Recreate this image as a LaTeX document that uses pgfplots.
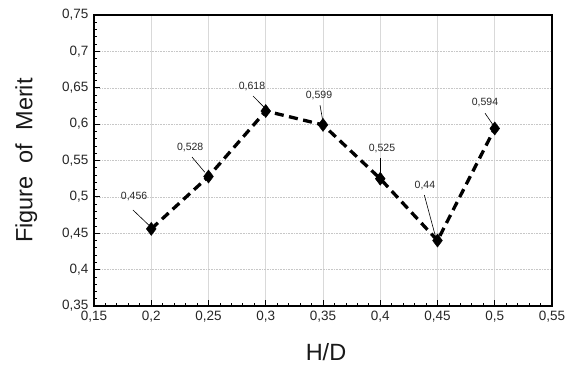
\documentclass[border=0pt]{standalone}
\usepackage{pgfplots}
\pgfplotsset{compat=1.18}
\usepackage{fontspec}
\setmainfont{Liberation Sans}
\begin{document}
\begin{tikzpicture}
\begin{axis}[
  at={(0,0)}, anchor=south west,
  scale only axis,
  width=458pt, height=291pt,
  xmin=0.15, xmax=0.55, ymin=0.35, ymax=0.75,
  xtick={0.15,0.2,...,0.56}, ytick={0.35,0.4,...,0.76},
  minor tick num=4,
  tick align=inside,
  xtick pos=bottom, ytick pos=left,
  major tick length=6pt, minor tick length=3pt,
  tick style={black, line width=0.8pt},
  axis line style={line width=1.6pt},
  xmajorgrids, ymajorgrids,
  x grid style={solid, color=black!15, line width=0.8pt},
  y grid style={dash pattern=on 0.8pt off 0.8pt, color=black!22, line width=0.4pt},
  /pgf/number format/assume math mode=true,
  /pgf/number format/use comma,
  /pgf/number format/fixed,
  /pgf/number format/precision=2,
  tick label style={font=\fontsize{13.5}{15}\selectfont, text=black!85},
  xticklabel style={yshift=-2pt},
  yticklabel style={xshift=-2pt},
  xlabel={H/D}, ylabel={Figure\ \ of\ \ Merit},
  label style={font=\fontsize{23.5}{27}\selectfont, text=black!90},
  xlabel style={yshift=-14pt, xshift=3pt},
  ylabel style={yshift=18pt},
]
\addplot[black, line width=3.3pt, dash pattern=on 9pt off 5.5pt,
  mark=diamond*, mark size=6.5pt, mark options={solid, line width=0.5pt, fill=black}]
  coordinates {(0.2,0.456) (0.25,0.528) (0.3,0.618) (0.35,0.599) (0.4,0.525) (0.45,0.44) (0.5,0.594)};
\begin{scope}[every node/.style={font=\fontsize{10.5}{12}\selectfont, text=black!85}]
\node at (axis cs:0.185,0.500) {0,456};
\node at (axis cs:0.234,0.5685) {0,528};
\node at (axis cs:0.288,0.652) {0,618};
\node at (axis cs:0.3465,0.640) {0,599};
\node at (axis cs:0.4015,0.567) {0,525};
\node at (axis cs:0.439,0.516) {0,44};
\node at (axis cs:0.4915,0.630) {0,594};
\end{scope}
\begin{scope}[line width=0.6pt]
\draw (axis cs:0.184,0.482) -- (axis cs:0.198,0.461);
\draw (axis cs:0.2356,0.5547) -- (axis cs:0.2467,0.534);
\draw (axis cs:0.2889,0.6386) -- (axis cs:0.2993,0.622);
\draw (axis cs:0.3474,0.626) -- (axis cs:0.35,0.603);
\draw (axis cs:0.4,0.5534) -- (axis cs:0.4,0.530);
\draw (axis cs:0.4385,0.5025) -- (axis cs:0.4485,0.444);
\draw (axis cs:0.4915,0.615) -- (axis cs:0.4985,0.599);
\end{scope}
\end{axis}
\path[use as bounding box] (-94pt,-64pt) rectangle (481pt,306pt);
\end{tikzpicture}
\end{document}
